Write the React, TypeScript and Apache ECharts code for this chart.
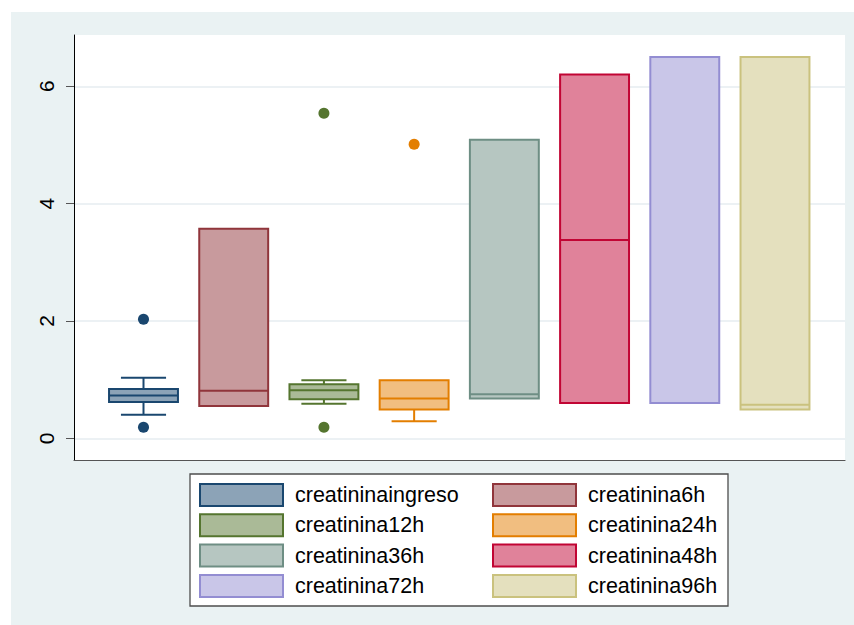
import React, { useEffect, useRef } from "react";
import * as echarts from "echarts";

// Variables plotted, left to right
const categories = [
  "creatininaingreso",
  "creatinina6h",
  "creatinina12h",
  "creatinina24h",
  "creatinina36h",
  "creatinina48h",
  "creatinina72h",
  "creatinina96h",
];

// [lower adjacent, q1, median, q3, upper adjacent]
const boxStats = [
  [0.4, 0.62, 0.73, 0.84, 1.03],
  [0.55, 0.55, 0.81, 3.57, 3.57],
  [0.59, 0.665, 0.82, 0.92, 0.99],
  [0.29, 0.49, 0.68, 0.99, 0.99],
  [0.68, 0.68, 0.75, 5.09, 5.09],
  [0.6, 0.6, 3.38, 6.2, 6.2],
  [0.6, 0.6, 0.6, 6.5, 6.5],
  [0.49, 0.49, 0.57, 6.5, 6.5],
];

// Outside values per variable
const outliers = [[2.03, 0.19], [], [5.54, 0.19], [5.01], [], [], [], []];

const yTicks = [0, 2, 4, 6];

const lineColors = [
  "#1a476f",
  "#90353b",
  "#55752f",
  "#e37e00",
  "#6e8e84",
  "#c10534",
  "#938dd2",
  "#cac27e",
];
const fillColors = [
  "#8ca3b7",
  "#c89a9d",
  "#aaba97",
  "#f1be80",
  "#b6c6c1",
  "#e0829a",
  "#c9c6e8",
  "#e4e0be",
];

const FONT = "'Liberation Sans', Arial, Helvetica, sans-serif";
const BOX_HALF = 0.382;
const CAP_HALF = 0.25;

function makeRenderItem(stroke: string, fill: string) {
  return (params: any, api: any) => {
    const x = api.value(0);
    const lo = api.value(1);
    const q1 = api.value(2);
    const med = api.value(3);
    const q3 = api.value(4);
    const hi = api.value(5);
    const c = (xx: number, yy: number) => api.coord([xx, yy]);
    const ls = { stroke, lineWidth: 2, fill: null };
    const children: any[] = [];
    if (hi > q3) {
      const a = c(x, hi);
      const b = c(x, q3);
      const l = c(x - CAP_HALF, hi);
      const r = c(x + CAP_HALF, hi);
      children.push({ type: "line", shape: { x1: a[0], y1: a[1], x2: b[0], y2: b[1] }, style: ls });
      children.push({ type: "line", shape: { x1: l[0], y1: l[1], x2: r[0], y2: r[1] }, style: ls });
    }
    if (lo < q1) {
      const a = c(x, lo);
      const b = c(x, q1);
      const l = c(x - CAP_HALF, lo);
      const r = c(x + CAP_HALF, lo);
      children.push({ type: "line", shape: { x1: a[0], y1: a[1], x2: b[0], y2: b[1] }, style: ls });
      children.push({ type: "line", shape: { x1: l[0], y1: l[1], x2: r[0], y2: r[1] }, style: ls });
    }
    const tl = c(x - BOX_HALF, q3);
    const br = c(x + BOX_HALF, q1);
    children.push({
      type: "rect",
      shape: { x: tl[0], y: tl[1], width: br[0] - tl[0], height: br[1] - tl[1] },
      style: { fill, stroke, lineWidth: 2 },
    });
    const ml = c(x - BOX_HALF, med);
    const mr = c(x + BOX_HALF, med);
    children.push({ type: "line", shape: { x1: ml[0], y1: ml[1], x2: mr[0], y2: mr[1] }, style: ls });
    return { type: "group", children };
  };
}

export default function App() {
  const ref = useRef<HTMLDivElement>(null);

  useEffect(() => {
    if (!ref.current) return;
    const chart = echarts.init(ref.current, undefined, { renderer: "svg" });

    const series: any[] = [];
    categories.forEach((name, i) => {
      series.push({
        type: "custom",
        name,
        renderItem: makeRenderItem(lineColors[i], fillColors[i]),
        encode: { x: 0, y: [1, 2, 3, 4, 5] },
        data: [[i + 1, ...boxStats[i]]],
        z: 3,
      });
      if (outliers[i].length) {
        series.push({
          type: "scatter",
          name,
          symbol: "circle",
          symbolSize: 11,
          itemStyle: { color: lineColors[i], opacity: 1 },
          data: outliers[i].map((v) => [i + 1, v]),
          z: 4,
        });
      }
    });

    const legendItem = (i: number) => ({
      name: categories[i],
      icon: "rect",
      itemStyle: { color: fillColors[i], borderColor: lineColors[i], borderWidth: 2 },
    });
    const legendBase = {
      orient: "vertical",
      top: 483,
      padding: 0,
      itemWidth: 83,
      itemHeight: 22,
      itemGap: 6.3,
      selectedMode: false,
      textStyle: {
        fontSize: 21.5,
        lineHeight: 22,
        fontFamily: FONT,
        color: "#000",
        padding: [0, 0, 0, 7],
      },
    };

    chart.setOption({
      animation: false,
      backgroundColor: "#ffffff",
      graphic: {
        elements: [
          {
            type: "rect",
            z: -20,
            shape: { x: 11, y: 12, width: 843, height: 613 },
            style: { fill: "#eaf2f3" },
            silent: true,
          },
          {
            type: "rect",
            z: -10,
            shape: { x: 74, y: 35, width: 771, height: 425 },
            style: { fill: "#ffffff" },
            silent: true,
          },
          {
            type: "rect",
            z: 1,
            shape: { x: 190, y: 474, width: 538, height: 132 },
            style: { fill: "#ffffff", stroke: "#4d4d4d", lineWidth: 1.3 },
            silent: true,
          },
        ],
      },
      grid: {
        left: 74,
        right: 9,
        top: 35,
        bottom: 165,
        containLabel: false,
        outerBoundsMode: "none",
      },
      xAxis: {
        type: "value",
        min: 0.2296,
        max: 8.776,
        axisLine: { show: true, onZero: false, lineStyle: { color: "#555555", width: 1.2 } },
        axisTick: { show: false },
        axisLabel: { show: false },
        splitLine: { show: false },
      },
      yAxis: {
        type: "value",
        min: -0.37,
        max: 6.874,
        axisLine: { show: true, onZero: false, lineStyle: { color: "#000000", width: 1 } },
        axisTick: {
          show: true,
          length: 8,
          customValues: yTicks,
          lineStyle: { color: "#555555", width: 1 },
        },
        axisLabel: {
          customValues: yTicks,
          rotate: 90,
          margin: 17,
          fontSize: 21,
          fontFamily: FONT,
          color: "#000000",
        },
        splitLine: { show: true, lineStyle: { color: "#e6edf0", width: 1.5 } },
      },
      legend: [
        { ...legendBase, left: 199, data: [0, 2, 4, 6].map(legendItem) },
        { ...legendBase, left: 492, data: [1, 3, 5, 7].map(legendItem) },
      ],
      series,
    });

    return () => chart.dispose();
  }, []);

  return (
    <div
      ref={ref}
      style={{ position: "fixed", left: 0, top: 0, width: 854, height: 625 }}
    />
  );
}
